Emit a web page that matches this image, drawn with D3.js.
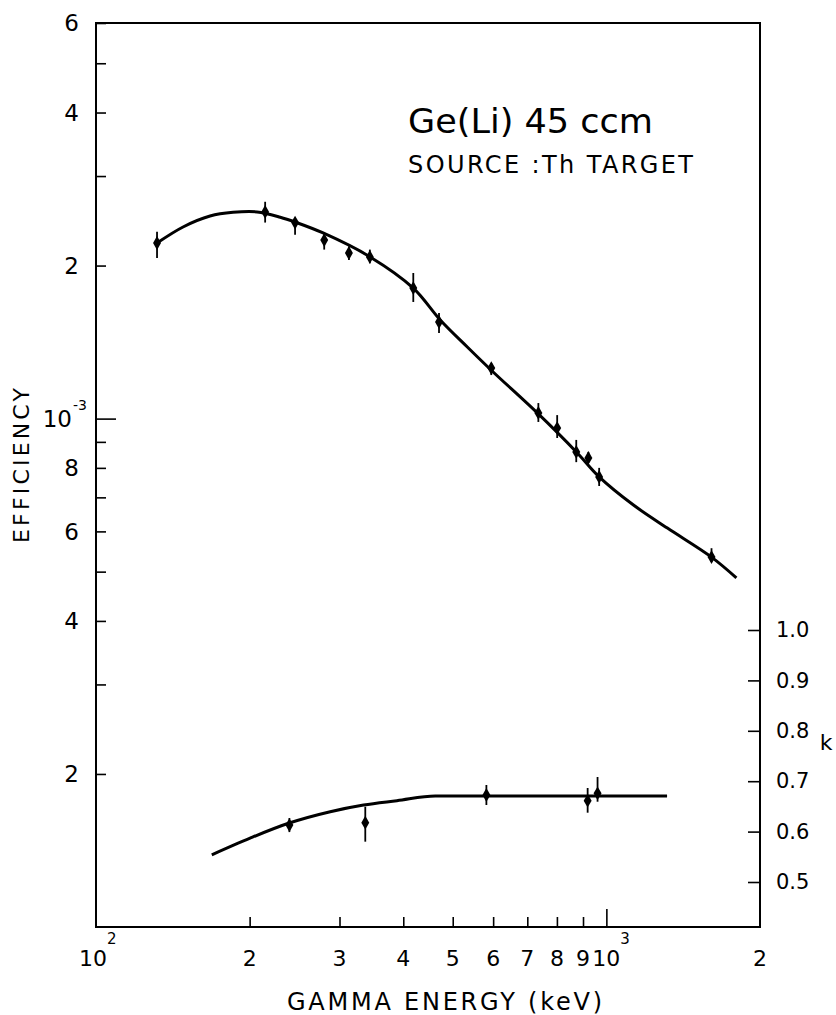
<!DOCTYPE html>
<html>
<head>
<meta charset="utf-8">
<script src="https://cdn.jsdelivr.net/npm/d3@7"></script>
<style>
  body { margin: 0; background: #fff; }
  svg { display: block; }
  text { font-family: "DejaVu Sans", sans-serif; fill: #000; }
</style>
</head>
<body>
<svg id="chart" width="836" height="1015"></svg>
<script>
// efficiency curve
var effCurveE = [131.7, 148.1, 167.3, 185.6, 206.9, 229.6, 245.5, 278.6, 344.4, 418.5, 472.6, 534, 600, 732.3, 877, 968, 1130, 1317, 1607, 1798];
var effCurveV = [2.215e-3, 2.382e-3, 2.503e-3, 2.545e-3, 2.55e-3, 2.49e-3, 2.436e-3, 2.318e-3, 2.08e-3, 1.806e-3, 1.563e-3, 1.383e-3, 1.235e-3, 1.026e-3, 0.856e-3, 0.768e-3, 0.676e-3, 0.609e-3, 0.534e-3, 0.486e-3];

// efficiency measurements with error bars
var effPointE = [131.7, 214.5, 245.5, 280, 313, 344, 418.5, 470, 595, 735.8, 801, 873, 922, 968, 1607];
var effPointV = [2.215e-3, 2.55e-3, 2.43e-3, 2.245e-3, 2.117e-3, 2.08e-3, 1.806e-3, 1.549e-3, 1.257e-3, 1.026e-3, 0.958e-3, 0.86e-3, 0.837e-3, 0.768e-3, 0.534e-3];
var effLo = [2.07e-3, 2.43e-3, 2.30e-3, 2.15e-3, 2.05e-3, 2.02e-3, 1.696e-3, 1.474e-3, 1.218e-3, 0.985e-3, 0.916e-3, 0.821e-3, 0.818e-3, 0.737e-3, 0.522e-3];
var effHi = [2.33e-3, 2.67e-3, 2.48e-3, 2.32e-3, 2.18e-3, 2.15e-3, 1.934e-3, 1.614e-3, 1.286e-3, 1.073e-3, 1.016e-3, 0.908e-3, 0.86e-3, 0.80e-3, 0.556e-3];

// k curve and points
var kCurveE = [168.6, 200.4, 238.3, 287.7, 334.4, 388.7, 462.1, 700, 1000, 1315];
var kCurveV = [0.554, 0.587, 0.6165, 0.6395, 0.6528, 0.6613, 0.6706, 0.6706, 0.6706, 0.6706];
var kPointE = [239.3, 337, 582, 919, 961];
var kPointV = [0.613, 0.6177, 0.6726, 0.6613, 0.676];
var kLo = [0.599, 0.580, 0.6528, 0.6375, 0.6593];
var kHi = [0.627, 0.6494, 0.6925, 0.6865, 0.7083];

// ticks
var xTicks = [100, 200, 300, 400, 500, 600, 700, 800, 900, 1000, 2000];
var xLabels = ["10", "2", "3", "4", "5", "6", "7", "8", "9", "10", "2"];
var xSup = ["2", "", "", "", "", "", "", "", "", "3", ""];
var yTicks = [2e-4, 3e-4, 4e-4, 5e-4, 6e-4, 7e-4, 8e-4, 9e-4, 1e-3, 2e-3, 3e-3, 4e-3, 5e-3, 6e-3];
var yLabelVals = [2e-4, 4e-4, 6e-4, 8e-4, 1e-3, 2e-3, 4e-3, 6e-3];
var yLabels = ["2", "4", "6", "8", "10", "2", "4", "6"];
var ySup = ["", "", "", "", "-3", "", "", ""];
var kTicks = [0.5, 0.6, 0.7, 0.8, 0.9, 1.0];

const svg = d3.select("#chart");

const x = d3.scaleLog().domain([100, 2000]).range([96, 760]);
const y = d3.scaleLog().domain([1e-4, 6e-3]).range([927, 23]);
const yk = d3.scaleLinear().domain([0.5, 1.0]).range([882, 630]);

// frame
svg.append("rect")
    .attr("x", x(100))
    .attr("y", y(6e-3))
    .attr("width", x(2000) - x(100))
    .attr("height", y(1e-4) - y(6e-3))
    .attr("fill", "none")
    .attr("stroke", "#000")
    .attr("stroke-width", 2);

// left axis, ticks inward
const yAxis = d3.axisLeft(y)
    .tickValues(yTicks)
    .tickFormat("")
    .tickSize(-10)
    .tickSizeOuter(0);
const gy = svg.append("g")
    .attr("transform", "translate(" + x(100) + ",0)")
    .call(yAxis);
gy.select(".domain").remove();
gy.selectAll(".tick line")
    .attr("stroke-width", 1.6)
    .attr("x2", d => d === 1e-3 ? 20 : 10);

const yLab = svg.append("g");
yLab.selectAll("text.main")
    .data(yLabelVals)
    .join("text")
    .attr("class", "main")
    .attr("x", (d, i) => ySup[i] ? 72 : 79)
    .attr("y", d => y(d))
    .attr("dy", "0.36em")
    .attr("text-anchor", "end")
    .attr("font-size", 23)
    .text((d, i) => yLabels[i]);
yLab.selectAll("text.sup")
    .data(yLabelVals.filter((d, i) => ySup[i]))
    .join("text")
    .attr("class", "sup")
    .attr("x", 73)
    .attr("y", d => y(d) - 9)
    .attr("font-size", 14)
    .text(d => ySup[yLabelVals.indexOf(d)]);

// bottom axis, ticks inward
const xAxis = d3.axisBottom(x)
    .tickValues(xTicks)
    .tickFormat("")
    .tickSize(-10)
    .tickSizeOuter(0);
const gx = svg.append("g")
    .attr("transform", "translate(0," + y(1e-4) + ")")
    .call(xAxis);
gx.select(".domain").remove();
gx.selectAll(".tick line")
    .attr("stroke-width", 1.6)
    .attr("y2", d => d === 1000 ? -18 : (d === 100 || d === 2000 ? 0 : -10));

const xLab = svg.append("g");
xLab.selectAll("text.main")
    .data(xTicks)
    .join("text")
    .attr("class", "main")
    .attr("x", (d, i) => x(d) - (d === 100 ? 3 : 0))
    .attr("y", 966)
    .attr("text-anchor", "middle")
    .attr("font-size", 22)
    .text((d, i) => xLabels[i]);
xLab.selectAll("text.sup")
    .data(xTicks.filter((d, i) => xSup[i]))
    .join("text")
    .attr("class", "sup")
    .attr("x", d => x(d) + (d === 100 ? 11 : 14))
    .attr("y", 944)
    .attr("font-size", 15)
    .text(d => xSup[xTicks.indexOf(d)]);

// right k axis
const kAxis = d3.axisRight(yk)
    .tickValues(kTicks)
    .tickFormat(d3.format(".1f"))
    .tickSize(-12)
    .tickSizeOuter(0)
    .tickPadding(16);
const gk = svg.append("g")
    .attr("transform", "translate(" + x(2000) + ",0)")
    .call(kAxis);
gk.select(".domain").remove();
gk.selectAll(".tick line").attr("stroke-width", 1.6);
gk.selectAll(".tick text")
    .attr("font-size", 21)
    .attr("font-family", "DejaVu Sans, sans-serif");

svg.append("text")
    .attr("x", 826)
    .attr("y", 750)
    .attr("text-anchor", "middle")
    .attr("font-size", 22)
    .text("k");

// curves
const effLine = d3.line()
    .x((d, i) => x(effCurveE[i]))
    .y((d, i) => y(effCurveV[i]))
    .curve(d3.curveCatmullRom.alpha(0.5));
svg.append("path")
    .datum(effCurveE)
    .attr("d", effLine)
    .attr("fill", "none")
    .attr("stroke", "#000")
    .attr("stroke-width", 3);

const kLine = d3.line()
    .x((d, i) => x(kCurveE[i]))
    .y((d, i) => yk(kCurveV[i]))
    .curve(d3.curveMonotoneX);
svg.append("path")
    .datum(kCurveE)
    .attr("d", kLine)
    .attr("fill", "none")
    .attr("stroke", "#000")
    .attr("stroke-width", 3);

// error bars + markers
const diamond = d3.symbol(d3.symbolDiamond).size(55);

svg.append("g").selectAll("line")
    .data(effPointE)
    .join("line")
    .attr("x1", d => x(d)).attr("x2", d => x(d))
    .attr("y1", (d, i) => y(effLo[i]))
    .attr("y2", (d, i) => y(effHi[i]))
    .attr("stroke", "#000")
    .attr("stroke-width", 1.8);
svg.append("g").selectAll("path")
    .data(effPointE)
    .join("path")
    .attr("d", diamond)
    .attr("transform", (d, i) => "translate(" + x(d) + "," + y(effPointV[i]) + ")")
    .attr("fill", "#000");

svg.append("g").selectAll("line")
    .data(kPointE)
    .join("line")
    .attr("x1", d => x(d)).attr("x2", d => x(d))
    .attr("y1", (d, i) => yk(kLo[i]))
    .attr("y2", (d, i) => yk(kHi[i]))
    .attr("stroke", "#000")
    .attr("stroke-width", 1.8);
svg.append("g").selectAll("path")
    .data(kPointE)
    .join("path")
    .attr("d", diamond)
    .attr("transform", (d, i) => "translate(" + x(d) + "," + yk(kPointV[i]) + ")")
    .attr("fill", "#000");

// titles
svg.append("text")
    .attr("x", 408)
    .attr("y", 133)
    .attr("font-size", 34)
    .attr("textLength", 245)
    .attr("lengthAdjust", "spacingAndGlyphs")
    .text("Ge(Li) 45 ccm");

svg.append("text")
    .attr("x", 408)
    .attr("y", 173)
    .attr("font-size", 24)
    .attr("textLength", 285)
    .attr("lengthAdjust", "spacing")
    .text("SOURCE :Th TARGET");

svg.append("text")
    .attr("x", 287)
    .attr("y", 1010)
    .attr("font-size", 24)
    .attr("textLength", 315)
    .attr("lengthAdjust", "spacing")
    .text("GAMMA ENERGY (keV)");

svg.append("text")
    .attr("transform", "translate(29,543) rotate(-90)")
    .attr("font-size", 22)
    .attr("textLength", 155)
    .attr("lengthAdjust", "spacing")
    .text("EFFICIENCY");
</script>
</body>
</html>
